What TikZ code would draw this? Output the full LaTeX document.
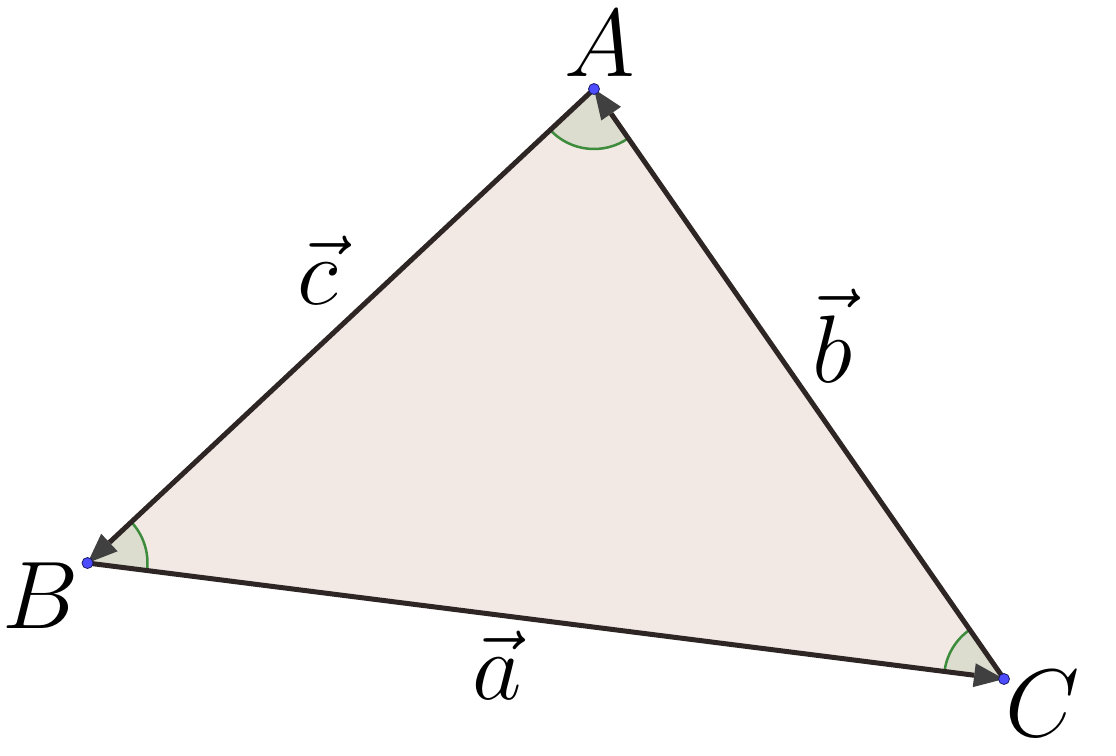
\documentclass[tikz,border=0pt]{standalone}
\usepackage{fix-cm}
\usetikzlibrary{arrows.meta,angles}
\definecolor{triFill}{HTML}{F2E9E5}
\definecolor{angFill}{HTML}{DCDCCF}
\definecolor{angLine}{HTML}{3C8C3C}
\definecolor{edge}{HTML}{2E2624}
\definecolor{tipcol}{HTML}{404040}
\definecolor{ptFill}{HTML}{4D4DFF}
\definecolor{ptLine}{HTML}{1A1A66}
\tikzset{
  vecline/.style={draw=edge, line width=5pt,
    -{Triangle[length=30pt,width=24pt,color=tipcol,fill=tipcol,line width=0pt]}},
  angmark/.style={draw=angLine, line width=2.5pt, fill=angFill, angle radius=60pt},
  ptdot/.style={circle, fill=ptFill, draw=ptLine, line width=0.8pt, minimum size=11pt, inner sep=0pt},
  bigtxt/.style={inner sep=0pt, font=\fontsize{96}{96}\selectfont}
}
\begin{document}
\begin{tikzpicture}[x=1pt,y=-1pt]
\useasboundingbox (0,0) rectangle (1116,755);
\coordinate (A) at (594,89);
\coordinate (B) at (87.5,563);
\coordinate (C) at (1004,679);
\fill[triFill] (A) -- (B) -- (C) -- cycle;
\pic[angmark] {angle = B--A--C};
\pic[angmark] {angle = C--B--A};
\pic[angmark] {angle = A--C--B};
\draw[vecline] (A) -- (B);
\draw[vecline] (C) -- (A);
\draw[vecline] (B) -- (C);
\node[ptdot] (pA) at (A) {};
\node[ptdot] (pB) at (B) {};
\node[ptdot] (pC) at (C) {};
\node[bigtxt] (lA) at (600,44) {$A$};
\node[bigtxt] (lB) at (41,596) {$B$};
\node[bigtxt] (lC) at (1043,704) {$C$};
\node[bigtxt] (lc) at (318,270) {$\vec{c}$};
\node[bigtxt] (lb) at (832,336) {$\vec{b}$};
\node[bigtxt] (la) at (497,665) {$\vec{a}$};
\end{tikzpicture}
\end{document}
